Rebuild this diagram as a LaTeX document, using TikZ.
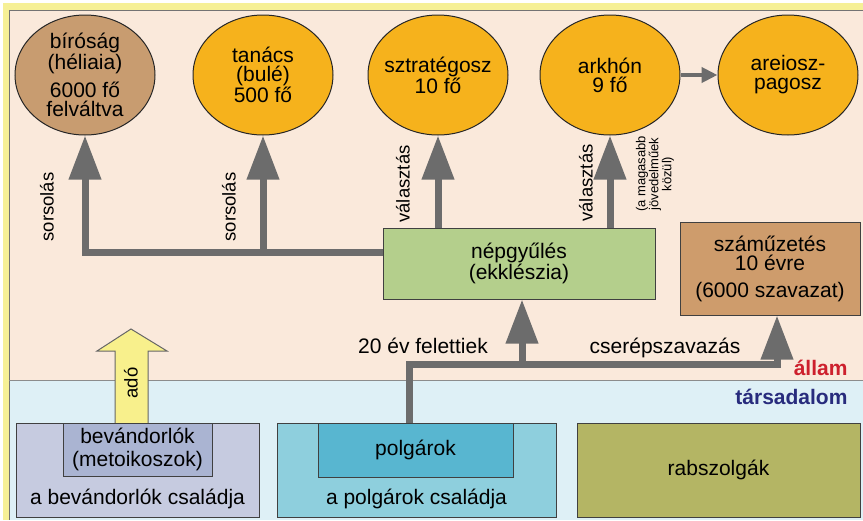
\documentclass[tikz,border=0pt]{standalone}
\usepackage{fontspec}
\setmainfont{Liberation Sans}
\usetikzlibrary{shapes.geometric,arrows.meta}
\definecolor{peach}{RGB}{250,233,219}
\definecolor{lblue}{RGB}{222,240,246}
\definecolor{yframe}{RGB}{246,240,150}
\definecolor{orng}{RGB}{246,178,28}
\definecolor{brwn}{RGB}{200,156,112}
\definecolor{grn}{RGB}{180,207,140}
\definecolor{szbrwn}{RGB}{206,156,108}
\definecolor{bevout}{RGB}{198,203,224}
\definecolor{bevin}{RGB}{170,180,210}
\definecolor{polout}{RGB}{142,207,221}
\definecolor{polin}{RGB}{88,182,208}
\definecolor{olive}{RGB}{180,181,100}
\definecolor{arrgray}{RGB}{108,108,108}
\definecolor{adoyel}{RGB}{248,240,140}
\definecolor{allamred}{RGB}{205,32,45}
\definecolor{tarsblue}{RGB}{40,44,125}
\tikzset{
  elli/.style={ellipse, draw=black!85, line width=1pt, inner sep=-20pt,
    minimum width=140pt, minimum height=120pt, align=center},
  box/.style={rectangle, draw=black!75, line width=1pt, inner sep=0pt, align=center},
  gline/.style={draw=arrgray, line width=7pt},
  garrow/.style={gline, -{Triangle[width=31pt,length=44pt]}},
  tarrow/.style={draw=arrgray, line width=4pt, -{Triangle[width=15pt,length=16pt]}},
  rlab/.style={rotate=90, font=\fontsize{18.5}{18}\selectfont},
}

\begin{document}
\begin{tikzpicture}[x=1pt,y=-1pt,font=\fontsize{21}{19}\selectfont]
      \useasboundingbox (0,0) rectangle (863,520);
      \fill[white] (0,0) rectangle (863,520);
      \fill[yframe] (3,3) rectangle (863,520);
      \fill[peach] (9,10) rectangle (863,380);
      \fill[lblue] (9,380) rectangle (863,520);
      \draw[black!55, line width=1pt] (863,10) -- (9,10) -- (9,520);
      \draw[black!45, line width=1pt] (9,380) -- (863,380);

      \node[elli, fill=brwn] (biro) at (85,75) {bíróság\\(héliaia)\\[7pt]6000 fő\\felváltva};
      \node[elli, fill=orng] (tan) at (263,75) {tanács\\(bulé)\\500 fő};
      \node[elli, fill=orng] (sztr) at (438,75) {sztratégosz\\10 fő};
      \node[elli, fill=orng] (ark) at (610,75) {arkhón\\9 fő};
      \node[elli, fill=orng] (are) at (788,75) {areiosz-\\pagosz};

      \node[box, fill=grn, minimum width=272pt, minimum height=71pt] (nep) at (519,263.5) {népgyűlés\\(ekklészia)};
      \node[box, fill=szbrwn, minimum width=180pt, minimum height=93pt] (szam) at (770,268.5) {száműzetés\\10 évre\\[8pt](6000 szavazat)};

      \draw[draw=black!60, fill=adoyel, line width=1pt] (115,423) -- (115,351) -- (97,351) -- (131,329) -- (167,351) -- (148,351) -- (148,423);
      \node[rlab] (ado) at (131,383) {adó};

      \node[box, fill=bevout, minimum width=243pt, minimum height=94pt] (bevcs) at (137.5,470) {};
      \node[box, fill=bevin, minimum width=149pt, minimum height=53pt, font=\fontsize{21}{23}\selectfont] (bev) at (137.5,449.5) {bevándorlók\\(metoikoszok)};
      \node (bevtxt) at (137.5,499) {a bevándorlók családja};
      \node[box, fill=polout, minimum width=279pt, minimum height=94pt] (polcs) at (416.5,470) {};
      \node[box, fill=polin, minimum width=195pt, minimum height=54pt] (pol) at (415.5,450) {polgárok};
      \node (poltxt) at (416.5,499) {a polgárok családja};
      \node[box, fill=olive, minimum width=283pt, minimum height=94pt] (rab) at (718.5,470) {rabszolgák};

      \coordinate (sj) at (383,252);
      \coordinate (vj) at (522,364);
      \draw[garrow] (sj) -| (biro);
      \draw[garrow] (sj -| tan) -- (tan);
      \draw[garrow] (nep.north -| sztr) -- (sztr);
      \draw[garrow] (nep.north -| ark) -- (ark);
      \draw[tarrow] (ark) -- (are);
      \draw[gline] ([xshift=-6.5pt]pol.north) |- (vj);
      \draw[garrow] (vj) -- (vj |- nep.south);
      \draw[garrow] (vj) -| ([xshift=7pt]szam.south);

      \node[rlab] (sor1) at (47,207) {sorsolás};
      \node[rlab] (sor2) at (229,207) {sorsolás};
      \node[rlab] (val1) at (403,184) {választás};
      \node[rlab] (val2) at (586,183) {választás};
      \node[rlab, align=center, font=\fontsize{13}{13}\selectfont] (mag) at (655,174) {(a magasabb\\jövedelműek\\közül)};
      \node (ev20) at (423,345.5) {20 év felettiek};
      \node (cser) at (665,347.5) {cserépszavazás};
      \node[anchor=east, text=allamred, font=\fontsize{21}{21}\selectfont\bfseries] (allam) at (851,368) {állam};
      \node[anchor=east, text=tarsblue, font=\fontsize{21}{21}\selectfont\bfseries] (tars) at (851,397) {társadalom};
\end{tikzpicture}
\end{document}
